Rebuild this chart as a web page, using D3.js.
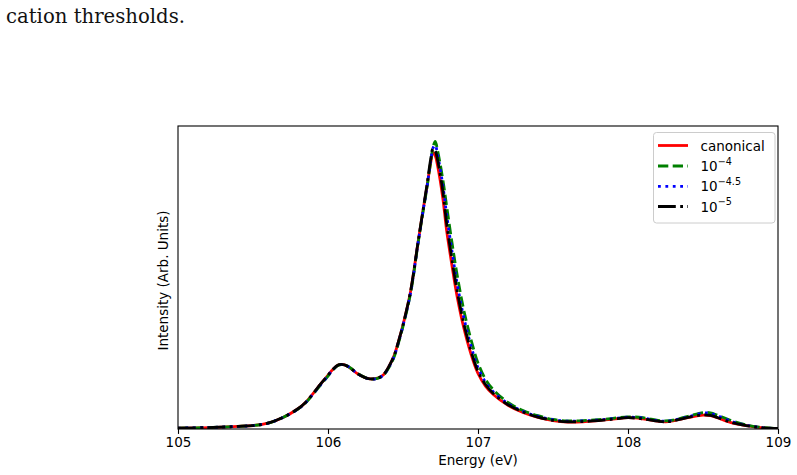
<!DOCTYPE html>
<html>
<head>
<meta charset="utf-8">
<script src="https://cdn.jsdelivr.net/npm/d3@7/dist/d3.min.js"></script>
<style>
  html, body { margin: 0; padding: 0; background: #ffffff; }
  svg { display: block; }
</style>
</head>
<body>
<svg id="chart" width="797" height="475"></svg>
<script>
// ---- data ----
const energy = [105.0,105.2,105.4,105.5,105.6,105.7,105.8,105.85,105.9,105.95,
  106.0,106.03,106.07,106.11,106.15,106.2,106.27,106.33,106.37,106.41,
  106.44,106.47,106.5,106.55,106.6,106.63,106.66,106.685,106.7,106.715,
  106.73,106.765,106.79,106.825,106.862,106.91,106.97,107.0,107.05,107.1,
  107.2,107.3,107.4,107.5,107.6,107.7,107.8,107.9,108.0,108.1,
  108.2,108.25,108.3,108.4,108.5,108.55,108.6,108.7,108.8,108.9,109.0];

const canonical = [0.003,0.005,0.009,0.012,0.02,0.04,0.07,0.092,0.122,0.155,
  0.186,0.205,0.222,0.222,0.21,0.19,0.174,0.176,0.188,0.22,
  0.253,0.303,0.36,0.475,0.645,0.745,0.84,0.922,0.956,0.945,
  0.912,0.80,0.69,0.57,0.455,0.34,0.232,0.192,0.148,0.12,
  0.082,0.057,0.04,0.029,0.024,0.025,0.029,0.034,0.039,0.035,
  0.027,0.025,0.028,0.039,0.048,0.046,0.038,0.02,0.011,0.004,0.002];

const thr1e4 = [0.003,0.005,0.009,0.012,0.02,0.04,0.069,0.09,0.12,0.152,
  0.183,0.203,0.221,0.222,0.211,0.191,0.174,0.175,0.186,0.216,
  0.248,0.298,0.355,0.468,0.64,0.74,0.835,0.925,0.975,0.995,
  0.965,0.865,0.775,0.65,0.53,0.40,0.278,0.228,0.172,0.137,
  0.092,0.064,0.046,0.033,0.028,0.029,0.032,0.037,0.042,0.039,
  0.03,0.028,0.031,0.044,0.057,0.056,0.047,0.027,0.013,0.005,0.002];

const thr1e45 = [0.003,0.005,0.009,0.012,0.02,0.04,0.069,0.091,0.121,0.153,
  0.184,0.204,0.221,0.222,0.211,0.19,0.174,0.175,0.187,0.218,
  0.25,0.3,0.358,0.47,0.642,0.742,0.838,0.928,0.972,0.982,
  0.95,0.845,0.745,0.62,0.50,0.375,0.258,0.212,0.162,0.13,
  0.088,0.061,0.044,0.032,0.027,0.028,0.031,0.036,0.041,0.038,
  0.029,0.027,0.03,0.042,0.055,0.054,0.045,0.025,0.012,0.004,0.002];

const thr1e5 = [0.003,0.005,0.009,0.012,0.02,0.04,0.07,0.092,0.122,0.155,
  0.186,0.205,0.222,0.222,0.21,0.19,0.174,0.176,0.188,0.22,
  0.253,0.303,0.36,0.475,0.645,0.745,0.845,0.935,0.97,0.962,
  0.932,0.825,0.715,0.592,0.475,0.355,0.242,0.2,0.154,0.124,
  0.084,0.059,0.041,0.03,0.025,0.026,0.029,0.034,0.039,0.035,
  0.027,0.025,0.028,0.04,0.049,0.047,0.039,0.021,0.011,0.004,0.002];

const xTicks = [105, 106, 107, 108, 109];
const seriesNames = ["canonical", "10^-4", "10^-4.5", "10^-5"];

// ---- layout ----
const svg = d3.select("#chart");
const pL = 178, pR = 778, pT = 126, pB = 429;
const font = "'DejaVu Sans', sans-serif";

const x = d3.scaleLinear().domain([105, 109]).range([pL, pR]);
const y = d3.scaleLinear().domain([0, 1.048]).range([pB, pT]);

// caption fragment at top
svg.append("text")
  .attr("x", 6).attr("y", 23)
  .attr("font-family", "'DejaVu Serif', 'Liberation Serif', serif")
  .attr("font-size", 20)
  .attr("textLength", 179)
  .attr("lengthAdjust", "spacingAndGlyphs")
  .attr("fill", "#111")
  .text("cation thresholds.");

// clip
svg.append("defs").append("clipPath").attr("id", "plotclip")
  .append("rect").attr("x", pL).attr("y", pT)
  .attr("width", pR - pL).attr("height", pB - pT);

const series = [
  { name: seriesNames[0], values: canonical, color: "#ff0000", dash: null },
  { name: seriesNames[1], values: thr1e4, color: "#008000", dash: "10.3,4.4" },
  { name: seriesNames[2], values: thr1e45, color: "#0000ff", dash: "2.8,4.6" },
  { name: seriesNames[3], values: thr1e5, color: "#000000", dash: "17.8,4.4,2.8,4.4" }
];

const line = d3.line()
  .x((d, i) => x(energy[i]))
  .y(d => y(d))
  .curve(d3.curveCatmullRom.alpha(0.5));

const g = svg.append("g").attr("clip-path", "url(#plotclip)");
series.forEach(s => {
  g.append("path")
    .attr("d", line(s.values))
    .attr("fill", "none")
    .attr("stroke", s.color)
    .attr("stroke-width", 2.8)
    .attr("stroke-dasharray", s.dash)
    .attr("stroke-linejoin", "round");
});

// frame
svg.append("rect")
  .attr("x", pL).attr("y", pT)
  .attr("width", pR - pL).attr("height", pB - pT)
  .attr("fill", "none").attr("stroke", "#000").attr("stroke-width", 1.1);

// x axis
const xAxis = d3.axisBottom(x).tickValues(xTicks).tickFormat(d3.format("d"))
  .tickSize(4.9).tickPadding(4);
const ax = svg.append("g").attr("transform", `translate(0,${pB})`).call(xAxis);
ax.select(".domain").remove();
ax.selectAll(".tick line").attr("stroke", "#000").attr("stroke-width", 1.1);
ax.selectAll(".tick text").attr("font-family", font).attr("font-size", 13.5).attr("fill", "#000");

// axis labels
svg.append("text")
  .attr("x", (pL + pR) / 2).attr("y", 465)
  .attr("text-anchor", "middle")
  .attr("font-family", font).attr("font-size", 13.5)
  .text("Energy (eV)");

svg.append("text")
  .attr("transform", `translate(168,${(pT + pB) / 2 + 3}) rotate(-90)`)
  .attr("text-anchor", "middle")
  .attr("font-family", font).attr("font-size", 13.5)
  .text("Intensity (Arb. Units)");

// legend
const lg = svg.append("g");
lg.append("rect")
  .attr("x", 653.5).attr("y", 132.5).attr("width", 121.5).attr("height", 90.5)
  .attr("rx", 3).attr("ry", 3)
  .attr("fill", "#ffffff").attr("fill-opacity", 0.8)
  .attr("stroke", "#cccccc").attr("stroke-width", 1);

const rowY = [145.5, 166, 186.4, 206.5];
series.forEach((s, i) => {
  lg.append("line")
    .attr("x1", 658).attr("x2", 688)
    .attr("y1", rowY[i]).attr("y2", rowY[i])
    .attr("stroke", s.color).attr("stroke-width", 2.8)
    .attr("stroke-dasharray", s.dash);
  const t = lg.append("text")
    .attr("x", 700.5).attr("y", rowY[i] + 5)
    .attr("font-family", font).attr("font-size", 13.5).attr("fill", "#000");
  if (i === 0) {
    t.text(s.name);
  } else {
    const parts = s.name.split("^");
    t.append("tspan").text(parts[0]);
    t.append("tspan").attr("dy", -6.5).attr("font-size", 9.6)
      .text(parts[1].replace("-", "\u2212"));
  }
});
</script>
</body>
</html>
